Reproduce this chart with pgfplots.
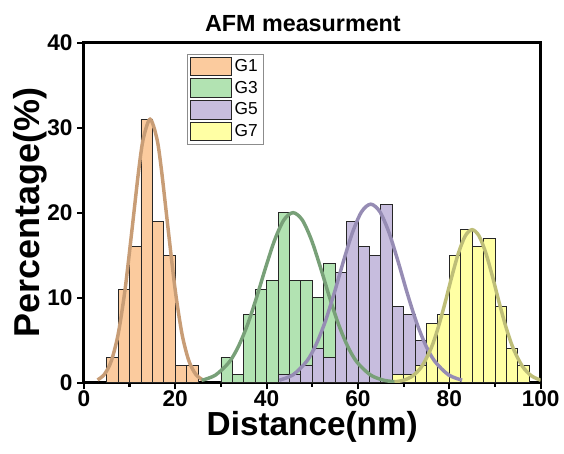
\documentclass[border={7pt 5pt 0pt 8pt}]{standalone}
\usepackage{fontspec}
\setmainfont{Liberation Sans}
\usepackage{pgfplots}
\pgfplotsset{compat=1.18}

\definecolor{gOne}{HTML}{FBCB9E}
\definecolor{gThree}{HTML}{B2E3B2}
\definecolor{gFive}{HTML}{C7BDDE}
\definecolor{gSeven}{HTML}{FFFFA4}
\definecolor{cOne}{HTML}{C89D76}
\definecolor{cThree}{HTML}{78A078}
\definecolor{cFive}{HTML}{968CB4}
\definecolor{cSeven}{HTML}{BEBE78}

\pgfplotsset{
  histbar/.style={ybar interval, draw=black!85, line width=0.6pt,
    legend image code/.code={\draw[##1, line width=0.8pt] (0pt,-7pt) rectangle (31pt,7pt);}},
  fitline/.style={smooth, line width=2.6pt, forget plot},
}

\begin{document}
\begin{tikzpicture}
\begin{axis}[
  scale only axis,
  width=342.75pt, height=255pt,
  xmin=0, xmax=100, ymin=0, ymax=40,
  axis line style={line width=2.2pt, line cap=rect},
  tick style={line width=1.6pt, black},
  major tick length=5pt, minor tick length=3pt,
  tick align=outside, xtick pos=bottom, ytick pos=left,
  xtick={0,20,...,100}, minor xtick={10,30,...,90},
  ytick={0,10,...,40},
  ticklabel style={font=\fontsize{17}{18}\selectfont\bfseries},
  xticklabel style={yshift=2.5pt},
  /pgf/number format/assume math mode=true,
  xlabel={Distance(nm)}, ylabel={Percentage(\%)},
  xlabel style={font=\fontsize{25}{28}\selectfont\bfseries, yshift=3pt},
  ylabel style={font=\fontsize{27}{30}\selectfont\bfseries, yshift=-7pt},
  title={AFM measurment},
  title style={font=\fontsize{17.5}{20}\selectfont\bfseries, yshift=-1pt, xshift=-7pt},
  legend style={at={(0.225,0.968)}, anchor=north west, draw=black!45,
    font=\fontsize{13}{14}\selectfont, row sep=1.5pt, inner sep=2pt,
    cells={anchor=west}},
]
% histograms (bin width 2.5 nm)
\addplot[histbar, fill=gOne] coordinates {
 (5,3) (7.5,11) (10,16) (12.5,31) (15,19) (17.5,15) (20,2) (22.5,2) (25,0)};
\addlegendentry{G1}
\addplot[histbar, fill=gThree] coordinates {
 (30,3) (32.5,1) (35,8) (37.5,11) (40,12) (42.5,20) (45,12) (47.5,12)
 (50,10) (52.5,14) (55,0)};
\addlegendentry{G3}
\addplot[histbar, fill=gFive] coordinates {
 (42.5,1) (45,1) (47.5,2) (50,4) (52.5,3) (55,13) (57.5,19) (60,16)
 (62.5,15) (65,21) (67.5,9) (70,8) (72.5,5) (75,0)};
\addlegendentry{G5}
\addplot[histbar, fill=gSeven] coordinates {
 (67.5,1) (70,1) (72.5,2) (75,7) (77.5,8) (80,15) (82.5,18) (85,16)
 (87.5,17) (90,9) (92.5,4) (95,2) (97.5,0)};
\addlegendentry{G7}
% fitted curves
\addplot[fitline, cOne] coordinates {
 (3,0.32) (4.5,0.97) (6,2.54) (7.5,5.68) (9,10.88) (10.5,17.82) (12,24.97)
 (13,28.68) (14.5,31) (16,28.68) (17,24.97) (18.5,17.82) (20,10.88)
 (21.5,5.68) (23,2.54) (24.5,0.97) (26,0.32)};
\addplot[fitline, cThree] coordinates {
 (25.8,0.26) (28.8,0.88) (31.8,2.40) (33.8,4.22) (35.8,6.78) (37.8,10.01)
 (39.8,13.55) (41.8,16.82) (43.8,19.15) (45.8,20) (47.8,19.15) (49.8,16.82)
 (51.8,13.55) (53.8,10.01) (55.8,6.78) (57.8,4.22) (59.8,2.40) (62.8,0.88)
 (65.8,0.26) (68.8,0.07)};
\addplot[fitline, cFive] coordinates {
 (42.8,0.28) (45.8,0.92) (48.8,2.52) (50.8,4.43) (52.8,7.12) (54.8,10.51)
 (56.8,14.23) (58.8,17.66) (60.8,20.11) (62.8,21) (64.8,20.11) (66.8,17.66)
 (68.8,14.23) (70.8,10.51) (72.8,7.12) (74.8,4.43) (76.8,2.52) (79.8,0.92)
 (82.8,0.28)};
\addplot[fitline, cSeven] coordinates {
 (68,0.09) (70,0.28) (72,0.79) (74,1.92) (76,4.02) (77.5,6.36) (79,9.25)
 (80.5,12.38) (82,15.24) (83.5,17.27) (85,18) (86.5,17.27) (88,15.24)
 (89.5,12.38) (91,9.25) (92.5,6.36) (94,4.02) (96,1.92) (98,0.79) (100,0.28)};
\end{axis}
\end{tikzpicture}
\end{document}
